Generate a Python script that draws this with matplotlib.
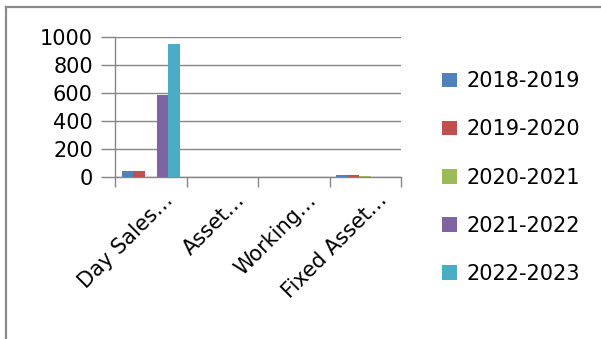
import numpy as np
import matplotlib.pyplot as plt
from matplotlib.patches import Patch
from matplotlib.lines import Line2D
from matplotlib.transforms import ScaledTranslation

categories = ["Day Sales…", "Asset…", "Working…", "Fixed Asset…"]
series_names = ["2018-2019", "2019-2020", "2020-2021", "2021-2022", "2022-2023"]
values_2018_2019 = [42, 0, 0, 12]
values_2019_2020 = [40, 0, 0, 12]
values_2020_2021 = [0, 0, 0, 10]
values_2021_2022 = [585, 0, 0, 0]
values_2022_2023 = [948, 0, 0, 0]
series_values = [values_2018_2019, values_2019_2020, values_2020_2021,
                 values_2021_2022, values_2022_2023]
colors = ["#4F81BD", "#C0504D", "#9BBB59", "#8064A2", "#4BACC6"]
y_ticks = [0, 200, 400, 600, 800, 1000]

GRID = "#868686"
FS = 15

fig = plt.figure(figsize=(6.01, 3.39), dpi=100)
ax = fig.add_axes([115 / 601, 1 - 177 / 339, 286 / 601, 140 / 339])

x = np.arange(len(categories))
w = 0.161
for j, (name, vals, c) in enumerate(zip(series_names, series_values, colors)):
    ax.bar(x + (j - 2) * w, vals, width=w, color=c, label=name, zorder=3)

ax.set_xlim(-0.5, len(categories) - 0.5)
ax.set_ylim(0, 1000)
ax.set_yticks(y_ticks)
ax.set_yticklabels([str(v) for v in y_ticks], fontsize=FS)
ax.yaxis.grid(True, color=GRID, linewidth=1.0, zorder=0)
ax.tick_params(axis="y", length=10, color=GRID, width=1.0, pad=6)

ax.set_xticks(x)
ax.set_xticklabels(categories, fontsize=FS, rotation=45, ha="right",
                   rotation_mode="anchor")
ax.tick_params(axis="x", which="major", length=0, pad=9)
ax.set_xticks(np.arange(len(categories) + 1) - 0.5, minor=True)
ax.tick_params(axis="x", which="minor", length=7, color=GRID, width=1.0)
for lbl in ax.get_xticklabels():
    lbl.set_transform(lbl.get_transform() + ScaledTranslation(12 / 100, 0, fig.dpi_scale_trans))

for s in ["top", "right"]:
    ax.spines[s].set_visible(False)
for s in ["left", "bottom"]:
    ax.spines[s].set_color(GRID)
    ax.spines[s].set_linewidth(1.0)

handles = [Patch(facecolor=c, edgecolor="none") for c in colors]
fig.legend(handles, series_names, loc="upper left",
           bbox_to_anchor=(434 / 601, 1 - 63 / 339), frameon=False,
           fontsize=FS, labelspacing=1.35, handlelength=0.7, handleheight=0.7,
           handletextpad=0.45, borderaxespad=0)

# outer frame (top and left edges visible)
fig.add_artist(Line2D([6 / 601, 6 / 601], [0, 1 - 7 / 339], transform=fig.transFigure,
                      color="#8a8a8a", linewidth=1.6))
fig.add_artist(Line2D([6 / 601, 1], [1 - 7 / 339, 1 - 7 / 339], transform=fig.transFigure,
                      color="#8a8a8a", linewidth=1.6))

fig.savefig("out.png", dpi=100)
